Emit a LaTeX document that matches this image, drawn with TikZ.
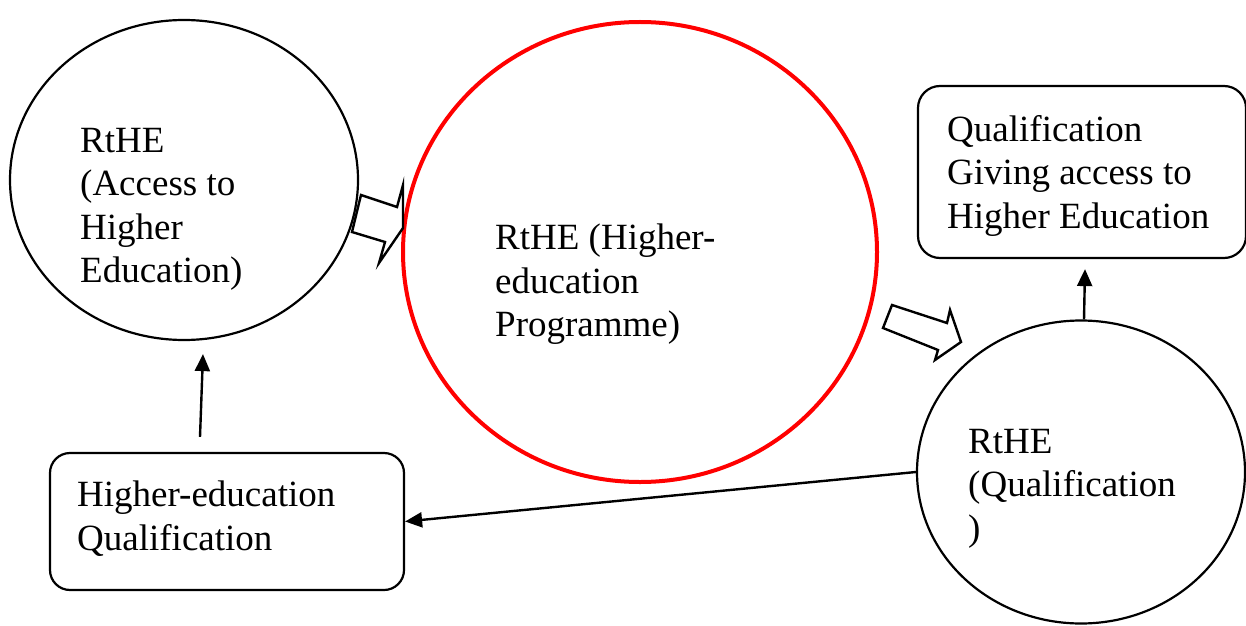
\documentclass[tikz,border=0pt]{standalone}
\usepackage{fontspec}
\setmainfont{Liberation Serif}
\usetikzlibrary{shapes.geometric,arrows.meta}
\begin{document}
\begin{tikzpicture}[x=1pt,y=1pt,
  shp/.style={draw=black,line width=2.2pt,fill=white,inner sep=0pt},
  oval/.style={shp,ellipse},
  roundbox/.style={shp,rectangle,rounded corners=22pt},
  txt/.style={anchor=north west,inner sep=0pt,align=left,font=\fontsize{37}{43.5}\selectfont},
  arr/.style={line width=2.4pt,-{Triangle[length=17pt,width=15pt]}},
  blk/.style={draw=black,line width=2.4pt,fill=white,line join=miter}]
\useasboundingbox (0,0) rectangle (1246,625);
% shapes
\node[oval,minimum width=348pt,minimum height=320pt] (c1) at (184,445) {};
\node[oval,draw=red,line width=4pt,minimum width=474pt,minimum height=460pt] (c2) at (640,373) {};
\node[oval,minimum width=328pt,minimum height=303pt] (c3) at (1081,153) {};
\node[roundbox,minimum width=328pt,minimum height=172pt] (tr) at (1082,453) {};
\node[roundbox,minimum width=354pt,minimum height=137pt,rounded corners=20pt] (bl) at (227,103.5) {};
% texts
\node[txt] (t1) at (80,497) {RtHE\\(Access to\\Higher\\Education)};
\node[txt] (t2) at (495,401) {RtHE (Higher-\\education\\Programme)};
\node[txt] (t3) at (947,510) {Qualification\\Giving access to\\Higher Education};
\node[txt] (t4) at (77,144) {Higher-education\\Qualification};
\node[txt] (t5) at (968,196) {RtHE\\(Qualification\\)};
% block arrows
\draw[blk] (361,430) -- (397,418) -- (403,440) -- (403,397) -- (379,362) -- (385,383) -- (352,393) -- cycle;
\draw[blk] (892,320) -- (947,302) -- (950,315) -- (961,283) -- (935,265) -- (938,275) -- (883,297) -- cycle;
% connectors
\draw[arr] ([xshift=-27pt,yshift=15pt]bl.north) -- ([xshift=19pt,yshift=-13pt]c1.south);
\draw[arr] ([xshift=3pt]c3.north) -- ([xshift=3pt,yshift=-10pt]tr.south);
\draw[arr] (c3.west) -- (bl.east);
\end{tikzpicture}
\end{document}
